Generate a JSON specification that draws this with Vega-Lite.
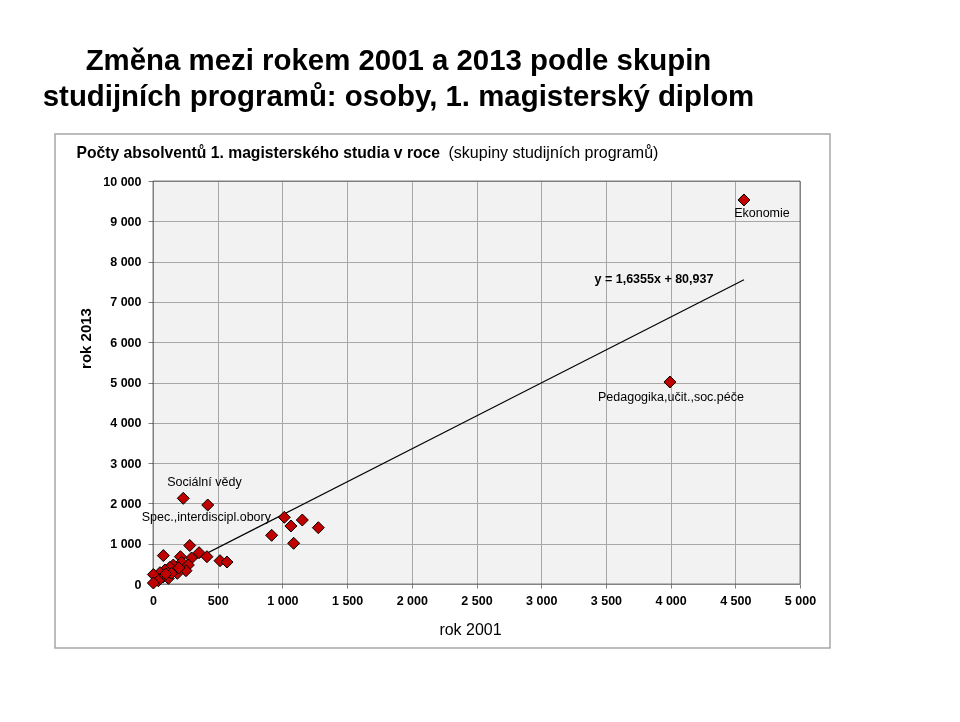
{
  "$schema": "https://vega.github.io/schema/vega-lite/v6.json",
  "padding": {"left": 42, "top": 45, "right": 5, "bottom": 5},
  "background": "white",
  "width": 775,
  "height": 514,
  "config": {
    "font": "Liberation Sans",
    "view": {"stroke": "#a6a6a6", "strokeWidth": 1.5},
    "locale": {"number": {"decimal": ",", "thousands": " ", "grouping": [3], "currency": ["", " Kč"]}}
  },
  "datasets": {
    "points": [
      {"x": 4567, "y": 9529, "label": "Ekonomie"},
      {"x": 3995, "y": 5012, "label": "Pedagogika,učit.,soc.péče"},
      {"x": 234, "y": 2126, "label": "Sociální vědy"},
      {"x": 423, "y": 1960, "label": "Spec.,interdiscipl.obory"},
      {"x": 1015, "y": 1655, "label": ""},
      {"x": 1066, "y": 1439, "label": ""},
      {"x": 1154, "y": 1588, "label": ""},
      {"x": 1278, "y": 1397, "label": ""},
      {"x": 917, "y": 1208, "label": ""},
      {"x": 1087, "y": 1010, "label": ""},
      {"x": 284, "y": 955, "label": ""},
      {"x": 80, "y": 705, "label": ""},
      {"x": 356, "y": 777, "label": ""},
      {"x": 417, "y": 677, "label": ""},
      {"x": 518, "y": 578, "label": ""},
      {"x": 572, "y": 545, "label": ""},
      {"x": 298, "y": 645, "label": ""},
      {"x": 212, "y": 677, "label": ""},
      {"x": 222, "y": 538, "label": ""},
      {"x": 157, "y": 471, "label": ""},
      {"x": 131, "y": 414, "label": ""},
      {"x": 273, "y": 471, "label": ""},
      {"x": 255, "y": 330, "label": ""},
      {"x": 93, "y": 347, "label": ""},
      {"x": 54, "y": 281, "label": ""},
      {"x": 3, "y": 235, "label": ""},
      {"x": 80, "y": 182, "label": ""},
      {"x": 119, "y": 141, "label": ""},
      {"x": 41, "y": 82, "label": ""},
      {"x": 3, "y": 25, "label": ""},
      {"x": 188, "y": 265, "label": ""},
      {"x": 144, "y": 265, "label": ""},
      {"x": 200, "y": 400, "label": ""},
      {"x": 100, "y": 250, "label": ""}
    ],
    "trend": [
      {"x": 0, "y": 80.937, "eq": ""},
      {"x": 4567, "y": 7550, "eq": "y = 1,6355x + 80,937"}
    ]
  },
  "title": {
    "text": ["Změna mezi rokem 2001 a 2013 podle skupin", "studijních programů: osoby, 1. magisterský diplom"],
    "anchor": "middle",
    "frame": "group",
    "dx": -44,
    "fontSize": 29.4,
    "fontWeight": "bold",
    "lineHeight": 36,
    "color": "#000000",
    "baseline": "alphabetic",
    "offset": -1,
    "font": "Liberation Sans"
  },
  "resolve": {"axis": {"x": "independent", "y": "independent"}},
  "layer": [
    {
      "data": {"values": [{}]},
      "mark": {"type": "rect", "fill": "#f2f2f2", "stroke": "#7f7f7f", "strokeWidth": 1, "blend": "multiply"},
      "encoding": {
        "x": {"datum": 0, "type": "quantitative", "scale": {"domain": [0, 5000], "range": [98, 745]}, "axis": null},
        "x2": {"datum": 5000},
        "y": {
          "datum": 0, "type": "quantitative",
          "scale": {"domain": [0, 10000], "range": [450, 47]},
          "axis": {
            "orient": "left", "offset": -98,
            "values": [0, 1000, 2000, 3000, 4000, 5000, 6000, 7000, 8000, 9000, 10000],
            "format": ",d",
            "domain": false, "grid": true, "gridColor": "#b0b0b0", "gridWidth": 1,
            "ticks": true, "tickSize": 5, "tickColor": "#808080",
            "labelFont": "Liberation Sans", "labelFontSize": 12.5, "labelFontWeight": "bold",
            "labelColor": "#000000", "labelPadding": 7,
            "title": "rok 2013", "titleFont": "Liberation Sans", "titleFontSize": 15, "titleFontWeight": "bold",
            "titleColor": "#000000", "titleX": -68, "titleY": 204, "titleAngle": 270,
            "titleAlign": "center", "titleBaseline": "middle"
          }
        },
        "y2": {"datum": 10000}
      }
    },
    {
      "data": {"name": "trend"},
      "mark": {"type": "line", "color": "#000000", "strokeWidth": 1.2},
      "encoding": {
        "x": {
          "field": "x", "type": "quantitative",
          "scale": {"domain": [0, 5000], "range": [98, 745]},
          "axis": {
            "orient": "top", "labels": false, "ticks": false, "domain": false,
            "minExtent": 0, "maxExtent": 0,
            "values": [0, 500, 1000, 1500, 2000, 2500, 3000, 3500, 4000, 4500, 5000],
            "grid": true, "gridColor": "#b0b0b0", "gridWidth": 1,
            "title": "Počty absolventů 1. magisterského studia v roce",
            "titleFont": "Liberation Sans", "titleFontWeight": "bold", "titleFontSize": 15.7,
            "titleColor": "#000000", "titleX": 21, "titleY": 23.6, "titleAlign": "left",
            "titleBaseline": "alphabetic", "titleAngle": 0, "titlePadding": 0
          }
        },
        "y": {"field": "y", "type": "quantitative", "axis": null}
      }
    },
    {
      "data": {"name": "points"},
      "mark": {"type": "point", "shape": "diamond", "filled": true, "fill": "#c00000", "stroke": "#000000", "strokeWidth": 1, "size": 144, "opacity": 1},
      "encoding": {
        "x": {
          "field": "x", "type": "quantitative",
          "axis": {
            "orient": "bottom", "offset": -64,
            "values": [0, 500, 1000, 1500, 2000, 2500, 3000, 3500, 4000, 4500, 5000],
            "format": ",d",
            "domain": false, "grid": false,
            "ticks": true, "tickSize": 4, "tickColor": "#808080",
            "labelFont": "Liberation Sans", "labelFontSize": 12.5, "labelFontWeight": "bold",
            "labelColor": "#000000", "labelPadding": 6, "labelFlush": false, "labelOverlap": false,
            "title": "rok 2001", "titleFont": "Liberation Sans", "titleFontSize": 16, "titleFontWeight": "normal",
            "titleColor": "#000000", "titleX": 415, "titleY": 50, "titleAlign": "center", "titleBaseline": "alphabetic"
          }
        },
        "y": {"field": "y", "type": "quantitative", "axis": null}
      }
    },
    {
      "data": {"name": "trend"},
      "transform": [{"filter": "datum.eq != ''"}],
      "mark": {"type": "text", "font": "Liberation Sans", "fontSize": 12.5, "fontWeight": "bold", "color": "#000000", "align": "center", "baseline": "middle", "dx": -90, "dy": -1},
      "encoding": {
        "x": {
          "field": "x", "type": "quantitative",
          "axis": {
            "orient": "top", "labels": false, "ticks": false, "domain": false, "grid": false,
            "minExtent": 0, "maxExtent": 0,
            "title": "(skupiny studijních programů)",
            "titleFont": "Liberation Sans", "titleFontWeight": "normal", "titleFontSize": 16,
            "titleColor": "#000000", "titleX": 393, "titleY": 23.6, "titleAlign": "left",
            "titleBaseline": "alphabetic", "titleAngle": 0, "titlePadding": 0
          }
        },
        "y": {"field": "y", "type": "quantitative", "axis": null},
        "text": {"field": "eq"}
      }
    },
    {
      "data": {"name": "points"},
      "transform": [{"filter": "datum.label == 'Ekonomie'"}],
      "mark": {"type": "text", "font": "Liberation Sans", "fontSize": 12.5, "color": "#000000", "align": "center", "baseline": "middle", "dx": 18, "dy": 13},
      "encoding": {
        "x": {"field": "x", "type": "quantitative", "axis": null},
        "y": {"field": "y", "type": "quantitative", "axis": null},
        "text": {"field": "label"}
      }
    },
    {
      "data": {"name": "points"},
      "transform": [{"filter": "datum.label == 'Pedagogika,učit.,soc.péče'"}],
      "mark": {"type": "text", "font": "Liberation Sans", "fontSize": 12.5, "color": "#000000", "align": "center", "baseline": "middle", "dx": 1, "dy": 15},
      "encoding": {
        "x": {"field": "x", "type": "quantitative", "axis": null},
        "y": {"field": "y", "type": "quantitative", "axis": null},
        "text": {"field": "label"}
      }
    },
    {
      "data": {"name": "points"},
      "transform": [{"filter": "datum.label == 'Sociální vědy'"}],
      "mark": {"type": "text", "font": "Liberation Sans", "fontSize": 12.5, "color": "#000000", "align": "left", "baseline": "middle", "dx": -16, "dy": -16},
      "encoding": {
        "x": {"field": "x", "type": "quantitative", "axis": null},
        "y": {"field": "y", "type": "quantitative", "axis": null},
        "text": {"field": "label"}
      }
    },
    {
      "data": {"name": "points"},
      "transform": [{"filter": "datum.label == 'Spec.,interdiscipl.obory'"}],
      "mark": {"type": "text", "font": "Liberation Sans", "fontSize": 12.5, "color": "#000000", "align": "left", "baseline": "middle", "dx": -66, "dy": 12},
      "encoding": {
        "x": {"field": "x", "type": "quantitative", "axis": null},
        "y": {"field": "y", "type": "quantitative", "axis": null},
        "text": {"field": "label"}
      }
    }
  ]
}
